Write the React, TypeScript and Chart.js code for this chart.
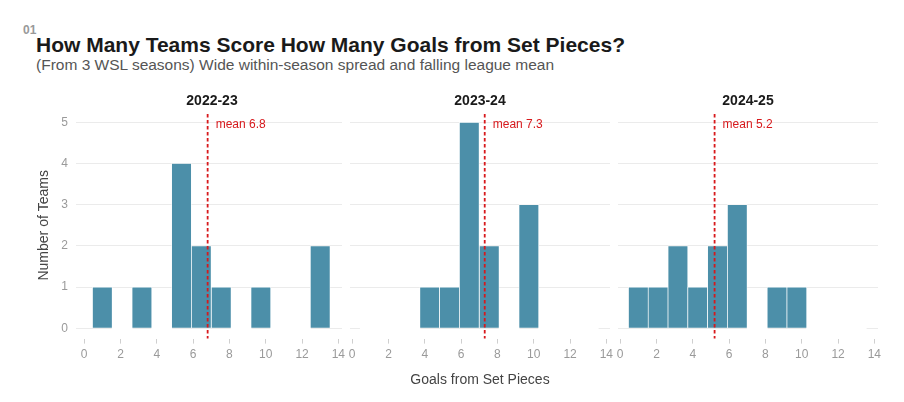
import React, { useEffect, useRef } from "react";
import { Chart, registerables } from "chart.js";

Chart.register(...registerables);

// ---------- data ----------
const seasons = ["2022-23", "2023-24", "2024-25"];
const binCenters = [1, 2.09, 3.18, 4.27, 5.36, 6.45, 7.55, 8.64, 9.73, 10.82, 11.91, 13];
const counts2223 = [1, 0, 1, 0, 4, 2, 1, 0, 1, 0, 0, 2];
const counts2324 = [0, 0, 0, 1, 1, 5, 2, 0, 3, 0, 0, 0];
const counts2425 = [1, 1, 2, 1, 2, 3, 0, 1, 1, 0, 0, 0];
const seasonMeans = [6.8, 7.3, 5.2];
const xTicks = [0, 2, 4, 6, 8, 10, 12, 14];
const yTicks = [0, 1, 2, 3, 4, 5];

const allCounts = [counts2223, counts2324, counts2425];

// ---------- style ----------
const FONT = '"Liberation Sans", Arial, Helvetica, sans-serif';
const BAR = "#4C8FA9";
const RED = "#D7191C";
const GRID = "#EBEBEB";
const TICK_TEXT = "#9A9A9A";
const W = 904;
const H = 402;
const PANEL_LEFTS = [82, 350, 618];
const PANEL_W = 260;
const PANEL_TOP = 112;
const PANEL_BOTTOM = 338.6;
const X_AXIS_H = 55;
const MEAN_LABEL_Y = 4.93;

function makeDecor(mean: number, season: string, counts: number[]) {
  return {
    id: "facetDecor",
    beforeDatasetsDraw(chart: any) {
      // zero-count bins: white outline covers the baseline grid line (as in ggplot)
      const { ctx, scales } = chart;
      const meta = chart.getDatasetMeta(0);
      const y0 = scales.y.getPixelForValue(0);
      ctx.save();
      ctx.fillStyle = "#FFFFFF";
      meta.data.forEach((el: any, i: number) => {
        if (counts[i] === 0) {
          ctx.fillRect(el.x - el.width / 2 - 0.5, y0 - 1.2, el.width + 1, 2.4);
        }
      });
      ctx.restore();
    },
    afterDatasetsDraw(chart: any) {
      const { ctx, chartArea, scales } = chart;
      const x = scales.x.getPixelForValue(mean);
      ctx.save();
      ctx.strokeStyle = RED;
      ctx.lineWidth = 1.8;
      ctx.setLineDash([3.5, 2.5]);
      ctx.beginPath();
      ctx.moveTo(x, chartArea.top + 2);
      ctx.lineTo(x, chartArea.bottom);
      ctx.stroke();
      ctx.setLineDash([]);
      ctx.fillStyle = RED;
      ctx.font = `12px ${FONT}`;
      ctx.textAlign = "left";
      ctx.textBaseline = "middle";
      ctx.fillText(`mean ${mean.toFixed(1)}`, x + 8, scales.y.getPixelForValue(MEAN_LABEL_Y));
      ctx.fillStyle = "#1A1A1A";
      ctx.font = `bold 14px ${FONT}`;
      ctx.textAlign = "center";
      ctx.fillText(season, (chartArea.left + chartArea.right) / 2, chartArea.top - 10.8);
      ctx.restore();
    },
  };
}

function Panel({ idx }: { idx: number }) {
  const ref = useRef<HTMLCanvasElement>(null);
  useEffect(() => {
    if (!ref.current) return;
    const first = idx === 0;
    const middle = idx === 1;
    const yWidth = first ? 52 : 0;
    const left = PANEL_LEFTS[idx];
    const counts = allCounts[idx];
    const chart = new Chart(ref.current, {
      type: "bar",
      data: {
        datasets: [
          {
            data: binCenters.map((x, i) => ({ x, y: counts[i] })),
            backgroundColor: BAR,
            borderColor: "#FFFFFF",
            borderWidth: 0.7,
            barPercentage: 1,
            categoryPercentage: 1,
          },
        ],
      },
      options: {
        responsive: false,
        animation: false,
        devicePixelRatio: window.devicePixelRatio || 1,
        layout: {
          padding: {
            left: left - yWidth,
            right: W - (left + PANEL_W),
            top: PANEL_TOP,
            bottom: H - PANEL_BOTTOM - X_AXIS_H,
          },
        },
        plugins: {
          legend: { display: false },
          tooltip: { enabled: false },
          title: { display: false },
        },
        scales: {
          x: {
            type: "linear",
            min: -0.12,
            max: 14.2,
            offset: false,
            afterBuildTicks: (axis: any) => {
              axis.ticks = xTicks.map((v) => ({ value: v }));
            },
            afterFit: (axis: any) => {
              axis.height = X_AXIS_H;
            },
            grid: {
              display: true,
              offset: false,
              drawOnChartArea: false,
              drawTicks: true,
              tickLength: 5,
              tickColor: "#CFCFCF",
              tickWidth: 1,
            },
            border: { display: false },
            ticks: {
              color: TICK_TEXT,
              font: { size: 12, family: FONT },
              padding: 4,
              maxRotation: 0,
              autoSkip: false,
            },
            title: {
              display: middle,
              text: "Goals from Set Pieces",
              color: "#444444",
              font: { size: 14, family: FONT },
              padding: { top: 0, bottom: 5.5 },
            },
          },
          y: {
            type: "linear",
            min: -0.25,
            max: 5.25,
            afterBuildTicks: (axis: any) => {
              axis.ticks = yTicks.map((v) => ({ value: v }));
            },
            afterFit: (axis: any) => {
              axis.width = yWidth;
            },
            grid: {
              color: GRID,
              lineWidth: 1,
              drawTicks: first,
              tickLength: 6,
              tickColor: GRID,
            },
            border: { display: false },
            ticks: {
              display: first,
              color: TICK_TEXT,
              font: { size: 12, family: FONT },
              padding: 8,
            },
            title: {
              display: first,
              text: "Number of Teams",
              color: "#444444",
              font: { size: 14, family: FONT },
              padding: { top: 6.2, bottom: 0 },
            },
          },
        },
      },
      plugins: [makeDecor(seasonMeans[idx], seasons[idx], counts)],
    } as any);
    return () => chart.destroy();
  }, [idx]);
  return (
    <canvas
      ref={ref}
      width={W}
      height={H}
      style={{ position: "absolute", left: 0, top: 0, width: W, height: H, pointerEvents: "none" }}
    />
  );
}

export default function App() {
  return (
    <div
      style={{
        position: "absolute",
        left: 0,
        top: 0,
        width: W,
        height: H,
        background: "#FFFFFF",
        fontFamily: FONT,
        overflow: "hidden",
      }}
    >
      <div
        style={{
          position: "absolute",
          left: 23,
          top: 24,
          fontSize: 12,
          lineHeight: "12px",
          fontWeight: "bold",
          color: "#999999",
        }}
      >
        01
      </div>
      <div
        style={{
          position: "absolute",
          left: 36,
          top: 34.3,
          fontSize: 21,
          lineHeight: "21px",
          fontWeight: "bold",
          color: "#1A1A1A",
          whiteSpace: "nowrap",
        }}
      >
        How Many Teams Score How Many Goals from Set Pieces?
      </div>
      <div
        style={{
          position: "absolute",
          left: 36,
          top: 56.5,
          fontSize: 15.5,
          lineHeight: "15.5px",
          color: "#555555",
          whiteSpace: "nowrap",
        }}
      >
        (From 3 WSL seasons) Wide within-season spread and falling league mean
      </div>
      {seasons.map((s, i) => (
        <Panel key={s} idx={i} />
      ))}
    </div>
  );
}
